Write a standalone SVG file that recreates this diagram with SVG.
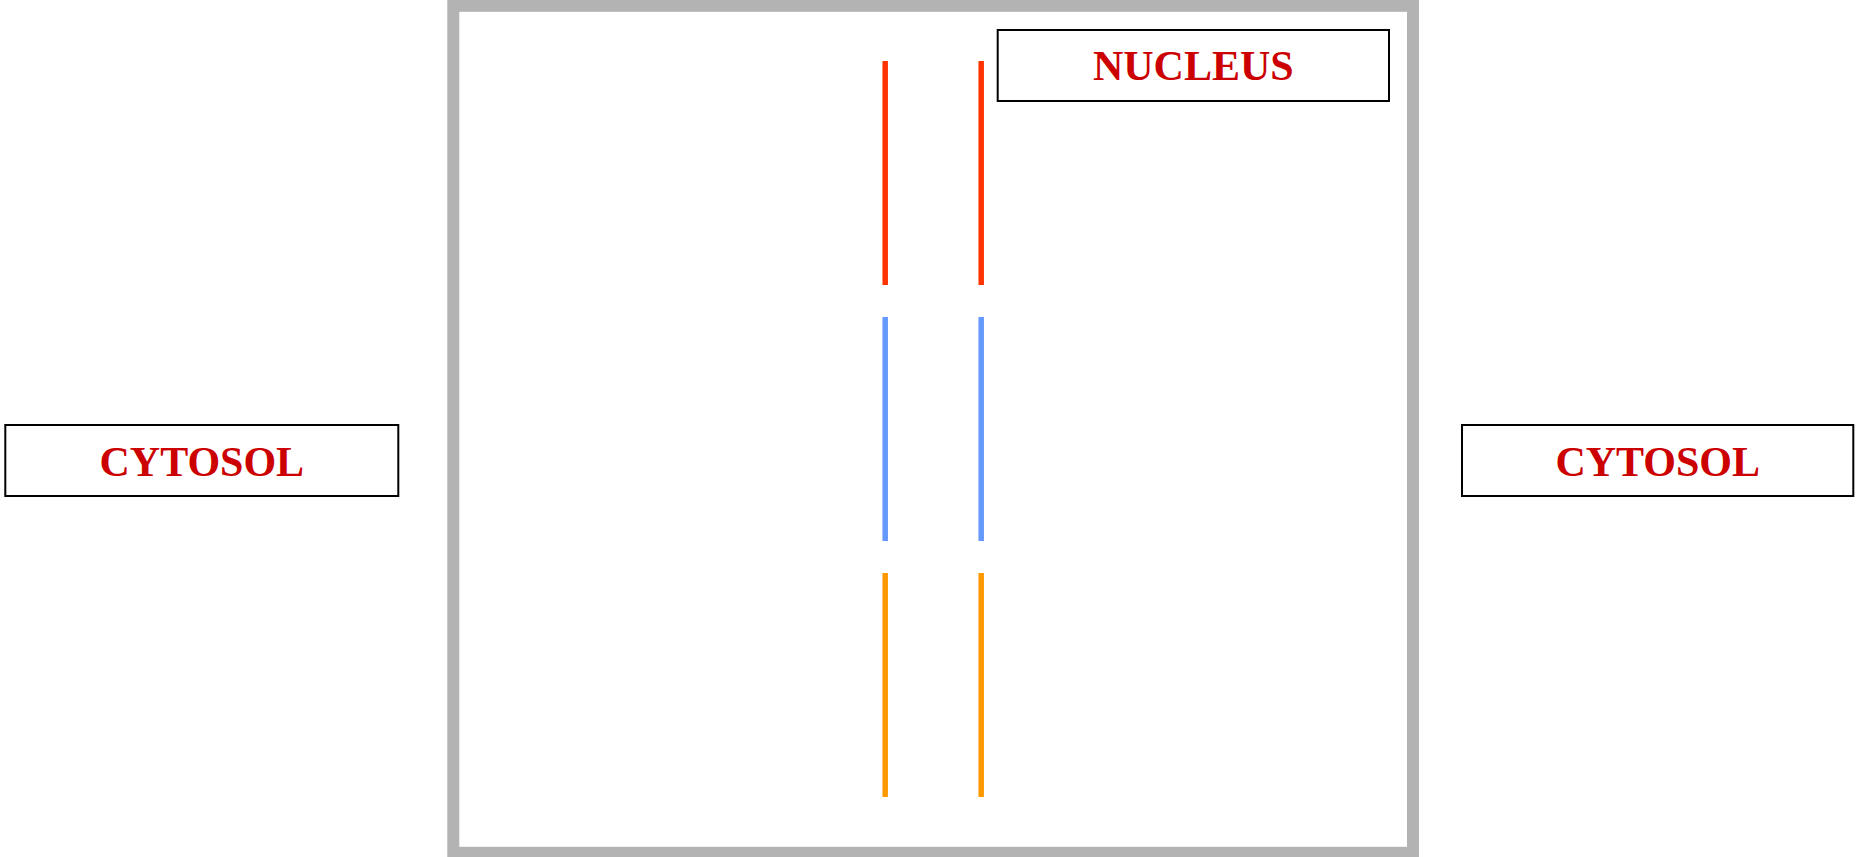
<svg xmlns="http://www.w3.org/2000/svg" width="1865" height="857" viewBox="0 0 1865 857">
  <style>
    .box { fill: #ffffff; stroke: #000000; stroke-width: 2; }
    .label { font-family: "Liberation Serif", "Times New Roman", serif; font-weight: bold; font-size: 42px; fill: #CC0000; text-anchor: middle; }
    .frame { fill: none; stroke: #B3B3B3; stroke-width: 12; }
    .seg { stroke-width: 5.5; fill: none; }
    .red { stroke: #FF3300; }
    .blue { stroke: #6699FF; }
    .orange { stroke: #FF9900; }
  </style>
  <rect width="1865" height="857" fill="#ffffff"/>
  <g id="cell">
    <rect class="frame" x="453.3" y="5.8" width="959.7" height="847"/>
  </g>
  <g id="membrane-lines">
    <line class="seg red" x1="885.2" y1="61" x2="885.2" y2="285"/>
    <line class="seg red" x1="981.2" y1="61" x2="981.2" y2="285"/>
    <line class="seg blue" x1="885.2" y1="317" x2="885.2" y2="541"/>
    <line class="seg blue" x1="981.2" y1="317" x2="981.2" y2="541"/>
    <line class="seg orange" x1="885.2" y1="573" x2="885.2" y2="797"/>
    <line class="seg orange" x1="981.2" y1="573" x2="981.2" y2="797"/>
  </g>
  <g id="nucleus">
    <rect class="box" x="997.7" y="30" width="391.3" height="71"/>
    <text class="label" x="1193.3" y="80">NUCLEUS</text>
  </g>
  <g id="cytosol-left">
    <rect class="box" x="5.3" y="425" width="393" height="71"/>
    <text class="label" x="201.8" y="476">CYTOSOL</text>
  </g>
  <g id="cytosol-right">
    <rect class="box" x="1462" y="425" width="391.3" height="71"/>
    <text class="label" x="1657.7" y="476">CYTOSOL</text>
  </g>
</svg>
